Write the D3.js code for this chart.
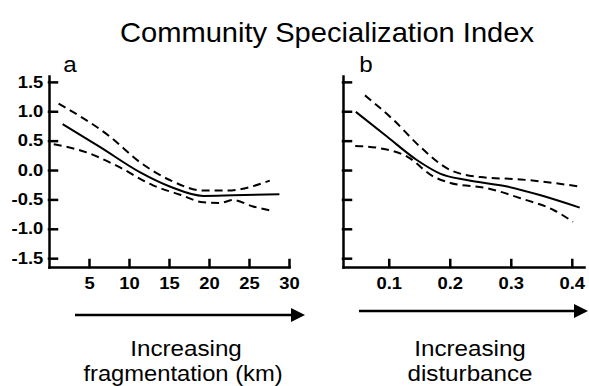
<!DOCTYPE html>
<html>
<head>
<meta charset="utf-8">
<script src="https://cdn.jsdelivr.net/npm/d3@7"></script>
<style>
  body { margin: 0; background: #fff; }
  text { font-family: "Liberation Sans", Arial, sans-serif; fill: #000; }
</style>
</head>
<body>
<svg id="chart" width="589" height="386"></svg>
<script>
// tick labels
var yTicks = [-1.5, -1.0, -0.5, 0.0, 0.5, 1.0, 1.5];
var fragTicks = [5, 10, 15, 20, 25, 30];
var distTicks = [0.1, 0.2, 0.3, 0.4];

// panel a: fragmentation (km)
var fragFitX = [1.7, 6.4, 11.4, 15.1, 19.3, 23, 28.8];
var fragFitY = [0.78, 0.39, -0.04, -0.28, -0.44, -0.43, -0.41];
var fragUpX = [1.2, 7.6, 11.4, 15.1, 19.3, 22.2, 27.6];
var fragUpY = [1.13, 0.57, 0.13, -0.17, -0.35, -0.35, -0.18];
var fragLoX = [0.6, 4.7, 8.5, 13, 16.4, 19.3, 21.4, 23, 25.5, 27.8];
var fragLoY = [0.44, 0.3, 0.07, -0.26, -0.42, -0.55, -0.56, -0.51, -0.62, -0.69];

// panel b: disturbance
var distFitX = [0.046, 0.097, 0.146, 0.184, 0.228, 0.294, 0.349, 0.413];
var distFitY = [0.99, 0.57, 0.17, -0.06, -0.17, -0.28, -0.43, -0.64];
var distUpX = [0.061, 0.108, 0.151, 0.201, 0.25, 0.316, 0.413];
var distUpY = [1.27, 0.85, 0.4, 0.0, -0.12, -0.16, -0.28];
var distLoX = [0.045, 0.086, 0.13, 0.173, 0.201, 0.261, 0.316, 0.37, 0.402];
var distLoY = [0.41, 0.37, 0.23, -0.11, -0.22, -0.31, -0.48, -0.68, -0.88];

var svg = d3.select("#chart");
var sx = 1.1;

var y = d3.scaleLinear().domain([-1.65, 1.6]).range([267, 76]);
var xa = d3.scaleLinear().domain([0, 30]).range([49, 289]);
var xb = d3.scaleLinear().domain([0.025, 0.42]).range([343, 584]);

function label(txt, px, py, size, anchor, weight, scale) {
  svg.append("text")
    .attr("transform", "translate(" + px + "," + py + ") scale(" + (scale || sx) + ",1)")
    .attr("text-anchor", anchor || "middle")
    .style("font-size", size + "px")
    .style("font-weight", weight || "normal")
    .text(txt);
}

function pairs(xs, ys) {
  return xs.map(function(v, i) { return [v, ys[i]]; });
}

function panel(x, xTicks, showY, series) {
  var yAxis = d3.axisLeft(y)
    .tickValues(yTicks)
    .tickSizeInner(-8)
    .tickSizeOuter(0)
    .tickPadding(5)
    .tickFormat(function(d) { return showY ? d.toFixed(1) : ""; });
  var gy = svg.append("g")
    .attr("transform", "translate(" + x.range()[0] + ",0)")
    .call(yAxis);

  var xAxis = d3.axisBottom(x)
    .tickValues(xTicks)
    .tickSizeInner(-7)
    .tickSizeOuter(0)
    .tickPadding(11)
    .tickFormat(function(d) { return xTicks[0] < 1 ? d.toFixed(1) : d; });
  var gx = svg.append("g")
    .attr("transform", "translate(0," + y.range()[0] + ")")
    .call(xAxis);

  [gy, gx].forEach(function(g) {
    g.selectAll("path, line").attr("stroke", "#000").attr("stroke-width", 2.5)
      .attr("stroke-linecap", "square");
    g.selectAll("text")
      .attr("fill", "#000")
      .style("font-size", "16px")
      .style("font-weight", "bold")
      .style("font-family", "'Liberation Sans', Arial, sans-serif")
      .attr("transform", "scale(1.15,1)");
  });

  var line = d3.line()
    .x(function(d) { return x(d[0]); })
    .y(function(d) { return y(d[1]); })
    .curve(d3.curveMonotoneX);

  series.forEach(function(s, i) {
    svg.append("path")
      .datum(s)
      .attr("fill", "none")
      .attr("stroke", "#000")
      .attr("stroke-width", 2)
      .attr("stroke-dasharray", i == 0 ? null : "8,5")
      .attr("d", line);
  });
}

panel(xa, fragTicks, true, [pairs(fragFitX, fragFitY), pairs(fragUpX, fragUpY), pairs(fragLoX, fragLoY)]);
panel(xb, distTicks, false, [pairs(distFitX, distFitY), pairs(distUpX, distUpY), pairs(distLoX, distLoY)]);

// arrows under the axes
function arrow(x1, x2, py) {
  svg.append("line")
    .attr("x1", x1).attr("x2", x2 - 10)
    .attr("y1", py).attr("y2", py)
    .attr("stroke", "#000").attr("stroke-width", 2.5);
  svg.append("path")
    .attr("d", "M" + (x2 - 14) + "," + (py - 7) + "L" + x2 + "," + py + "L" + (x2 - 14) + "," + (py + 7) + "Z")
    .attr("fill", "#000");
}
arrow(75, 305, 315);
arrow(359, 588, 311);

label("Community Specialization Index", 327, 42, 28, "middle", "normal", 1.04);
label("a", 70, 72, 22);
label("b", 366, 72, 22);
label("Increasing", 186, 356, 22);
label("fragmentation (km)", 183, 381, 22, "middle", "normal", 1.08);
label("Increasing", 470, 356, 22);
label("disturbance", 470, 381, 22);
</script>
</body>
</html>
